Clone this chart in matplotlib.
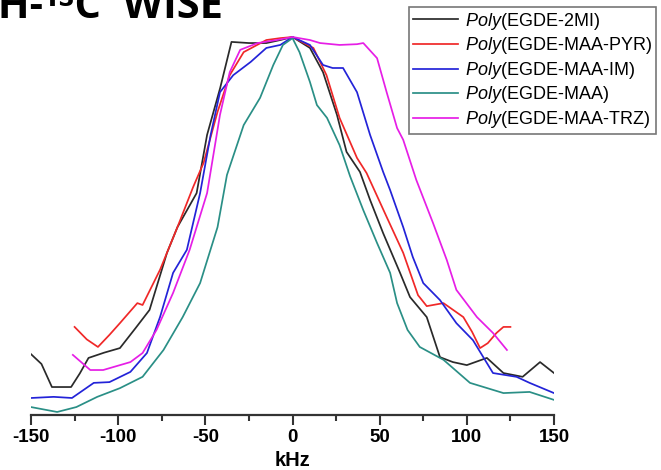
import matplotlib
matplotlib.use("Agg")
import matplotlib.pyplot as plt
from matplotlib.ticker import MultipleLocator

plt.rcParams['font.family'] = ['Liberation Sans', 'DejaVu Sans']
plt.rcParams['mathtext.fontset'] = 'custom'
plt.rcParams['mathtext.it'] = 'Liberation Sans:italic'
plt.rcParams['mathtext.rm'] = 'Liberation Sans'
plt.rcParams['axes.unicode_minus'] = False

# WISE slices (kHz vs normalised intensity)
khz_2mi = [-150, -144, -138, -127, -122, -117, -108, -99, -90, -82, -72, -66, -55, -49, -41.5, -35, -25, -15, -7, 0,
           10, 17.5, 25.5, 31, 38.7, 44.5, 52, 61.7, 67.4, 77, 84.6, 92, 100, 111.5, 121, 132, 142, 150]
int_2mi = [0.161, 0.135, 0.074, 0.074, 0.110, 0.151, 0.165, 0.177, 0.230, 0.278, 0.429, 0.497, 0.587, 0.741,
           0.865, 0.987, 0.984, 0.984, 0.992, 1.0, 0.971, 0.907, 0.794, 0.696, 0.643, 0.569, 0.481, 0.376,
           0.312, 0.259, 0.153, 0.140, 0.132, 0.151, 0.111, 0.101, 0.140, 0.111]

khz_pyr = [-125, -118, -111.6, -105, -99, -89, -86, -76, -66, -57, -51, -43, -36, -28, -15, -7, 0,
           12, 19.5, 27, 37, 42.5, 54, 63.5, 72, 77, 86.6, 98, 103, 107.6, 112, 117, 121, 125]
int_pyr = [0.233, 0.200, 0.180, 0.212, 0.243, 0.296, 0.291, 0.384, 0.497, 0.603, 0.667, 0.802, 0.899,
           0.960, 0.992, 0.997, 1.0, 0.971, 0.899, 0.786, 0.680, 0.640, 0.524, 0.429, 0.317, 0.288,
           0.296, 0.259, 0.220, 0.177, 0.190, 0.217, 0.233, 0.233]

khz_im = [-150, -137, -126.5, -114, -105, -93, -83.5, -76, -68.5, -60.6, -53, -47, -41.6, -34, -24, -15, -7, 0,
          10, 17.5, 23, 29, 37, 44.5, 52, 56, 63.5, 69, 75, 84.6, 94, 103.5, 115, 128.5, 136, 150]
int_im = [0.045, 0.048, 0.045, 0.085, 0.087, 0.114, 0.164, 0.259, 0.376, 0.437, 0.587, 0.740, 0.854, 0.899,
          0.934, 0.971, 0.979, 1.0, 0.979, 0.926, 0.918, 0.918, 0.854, 0.741, 0.643, 0.595, 0.497,
          0.418, 0.349, 0.304, 0.243, 0.198, 0.111, 0.101, 0.085, 0.058]

khz_maa = [-150, -135, -124, -112, -99, -86, -74, -63, -53, -43, -37.6, -28, -18.6, -11, -5.5, 0,
           4, 10, 14, 19.8, 27, 33, 40.6, 48.5, 56, 60, 66, 73, 86.6, 101.8, 121, 136, 150]
int_maa = [0.021, 0.008, 0.021, 0.048, 0.071, 0.101, 0.172, 0.259, 0.349, 0.497, 0.635, 0.767, 0.839,
           0.926, 0.979, 0.997, 0.960, 0.881, 0.820, 0.786, 0.714, 0.632, 0.542, 0.455, 0.376, 0.296,
           0.225, 0.180, 0.146, 0.085, 0.058, 0.061, 0.040]

khz_trz = [-126, -116, -108.6, -93, -86, -78, -68.5, -59, -49, -41.6, -36, -30, -20, -9, 0,
           10, 15.8, 27, 37, 40.6, 48.5, 54, 60, 63.5, 71, 80.6, 88.5, 94, 105.8, 115, 123]
int_trz = [0.159, 0.119, 0.119, 0.140, 0.164, 0.225, 0.323, 0.437, 0.587, 0.794, 0.907, 0.966, 0.984,
           0.992, 1.0, 0.992, 0.984, 0.979, 0.981, 0.984, 0.944, 0.854, 0.759, 0.728, 0.622, 0.508,
           0.410, 0.331, 0.259, 0.217, 0.172]

labels = [r"$\it{Poly}$(EGDE-2MI)", r"$\it{Poly}$(EGDE-MAA-PYR)", r"$\it{Poly}$(EGDE-MAA-IM)",
          r"$\it{Poly}$(EGDE-MAA)", r"$\it{Poly}$(EGDE-MAA-TRZ)"]
colors = ['#2a2a2a', '#f02828', '#2323d8', '#2a8f86', '#e61ee6']
series = [(khz_2mi, int_2mi), (khz_pyr, int_pyr), (khz_im, int_im), (khz_maa, int_maa), (khz_trz, int_trz)]

W, H = 661, 470
fig = plt.figure(figsize=(W / 100, H / 100), dpi=100)
ax = fig.add_axes([31 / W, 1 - 415 / H, (554 - 31) / W, (415 - 20) / H])

for (x, y), c, lab in zip(series, colors, labels):
    ax.plot(x, y, color=c, lw=1.25, label=lab)

ax.set_xlim(-150, 150)
ax.set_ylim(0, (415 - 20) / 378)
for s in ['top', 'right', 'left']:
    ax.spines[s].set_visible(False)
ax.spines['bottom'].set_color('#333333')
ax.spines['bottom'].set_linewidth(1.6)
ax.set_yticks([])
ax.xaxis.set_major_locator(MultipleLocator(50))
ax.xaxis.set_minor_locator(MultipleLocator(25))
ax.tick_params(axis='x', which='major', length=7, width=1.5, color='#333333', pad=3)
ax.tick_params(axis='x', which='minor', length=4, width=1.5, color='#333333')
for t in ax.get_xticklabels():
    t.set_fontsize(13.5)
    t.set_fontweight('bold')
ax.set_xlabel("kHz", fontsize=14.5, fontweight='bold', labelpad=4)

leg = ax.legend(loc='upper right', bbox_to_anchor=(656 / W, 1 - 7 / H), bbox_transform=fig.transFigure,
                fontsize=13, frameon=True, fancybox=False, shadow=False, handlelength=2.5,
                handletextpad=0.4, labelspacing=0.2, borderpad=0.2, borderaxespad=0)
leg.get_frame().set_edgecolor('#555555')
leg.get_frame().set_linewidth(1.2)

# heading, with the leading "1" running off the left edge
fig.canvas.draw()
r = fig.canvas.get_renderer()
probe = fig.text(0, 0, "¹", fontsize=30, fontweight='bold', family='Open Sans')
shift = probe.get_window_extent(r).width / W
probe.remove()
fig.text(-shift - 2 / W, 1 - 18 / H, "¹H-¹³C  WISE", fontsize=30, fontweight='bold',
         family='Open Sans', va='baseline', ha='left')

fig.savefig("out.png", dpi=100)
